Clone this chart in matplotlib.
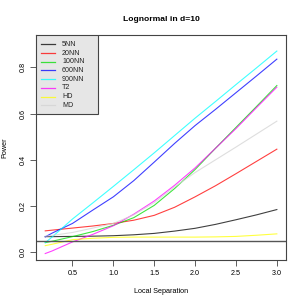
import matplotlib
matplotlib.use("Agg")
import matplotlib.pyplot as plt
from matplotlib.patches import Rectangle

plt.rcParams['font.family'] = ['Liberation Sans', 'DejaVu Sans']

# local separation grid and power curves
sep = [0.167, 0.25, 0.5, 0.75, 1.0, 1.25, 1.5, 1.75, 2.0, 2.25, 2.5, 2.75, 3.0]

nn5 = [0.068, 0.068, 0.069, 0.070, 0.072, 0.076, 0.082, 0.092, 0.104, 0.121, 0.141, 0.162, 0.185]
nn20 = [0.093, 0.096, 0.105, 0.114, 0.125, 0.139, 0.160, 0.195, 0.240, 0.288, 0.340, 0.393, 0.446]
nn100 = [0.042, 0.048, 0.068, 0.090, 0.117, 0.150, 0.203, 0.276, 0.358, 0.450, 0.540, 0.630, 0.721]
nn600 = [0.067, 0.083, 0.125, 0.183, 0.240, 0.310, 0.390, 0.471, 0.548, 0.618, 0.690, 0.762, 0.835]
nn900 = [0.042, 0.066, 0.144, 0.214, 0.285, 0.357, 0.430, 0.505, 0.580, 0.652, 0.725, 0.797, 0.870]
t2 = [-0.005, 0.006, 0.045, 0.078, 0.115, 0.165, 0.222, 0.290, 0.365, 0.450, 0.535, 0.625, 0.714]
hd = [0.029, 0.035, 0.055, 0.061, 0.065, 0.066, 0.066, 0.066, 0.066, 0.067, 0.069, 0.074, 0.080]
md = [0.070, 0.073, 0.086, 0.105, 0.125, 0.162, 0.215, 0.283, 0.345, 0.400, 0.455, 0.511, 0.567]

series = [nn5, nn20, nn100, nn600, nn900, t2, hd, md]
labels = ['5NN', '20NN', '100NN', '600NN', '900NN', 'T2', 'HD', 'MD']
colors = ['black', 'red', '#00dd00', 'blue', 'cyan', 'magenta', 'yellow', 'lightgrey']

fig = plt.figure(figsize=(3.05, 3.05), dpi=100)
ax = fig.add_axes([0.118, 0.1475, 0.82, 0.7375])

for y, lab, c in zip(series, labels, colors):
    ax.plot(sep, y, color=c, lw=0.8, alpha=0.75, label=lab)

ax.axhline(0.05, color='#555555', lw=1.0)

ax.set_xlim(0.054, 3.113)
ax.set_ylim(-0.033, 0.939)
ax.set_xticks([0.5, 1.0, 1.5, 2.0, 2.5, 3.0])
ax.set_yticks([0.0, 0.2, 0.4, 0.6, 0.8])
ax.tick_params(labelsize=5.2, length=4, width=0.6, pad=3, color='#444444')
plt.setp(ax.get_yticklabels(), rotation=90, va='center')
for s in ax.spines.values():
    s.set_linewidth(0.8)
    s.set_color('#444444')

ax.set_title('Lognormal in d=10', fontsize=6.1, fontweight='bold', pad=10)
ax.set_xlabel('Local Separation', fontsize=5.2, labelpad=8)
ax.set_ylabel('Power', fontsize=5.2, labelpad=8)

# R-style legend box in the top-left corner (axes fractions)
def fx(px):
    return (px - 36) / 250.0

def fy(py):
    return (260 - py) / 225.0

ax.add_patch(Rectangle((0, fy(114)), fx(98), 1 - fy(114), transform=ax.transAxes,
                       facecolor='#e6e6e6', edgecolor='#444444', lw=0.8, zorder=5))
for i, (lab, c) in enumerate(zip(labels, colors)):
    yy = fy(44.3 + 8.7 * i)
    ax.plot([fx(41), fx(55)], [yy, yy], transform=ax.transAxes, color=c,
            lw=0.9, alpha=0.75, zorder=6)
    ax.text(fx(62), yy, lab, transform=ax.transAxes, fontsize=5.1,
            va='center', ha='left', color='#222222', zorder=6)

fig.savefig('out.png', dpi=100)
